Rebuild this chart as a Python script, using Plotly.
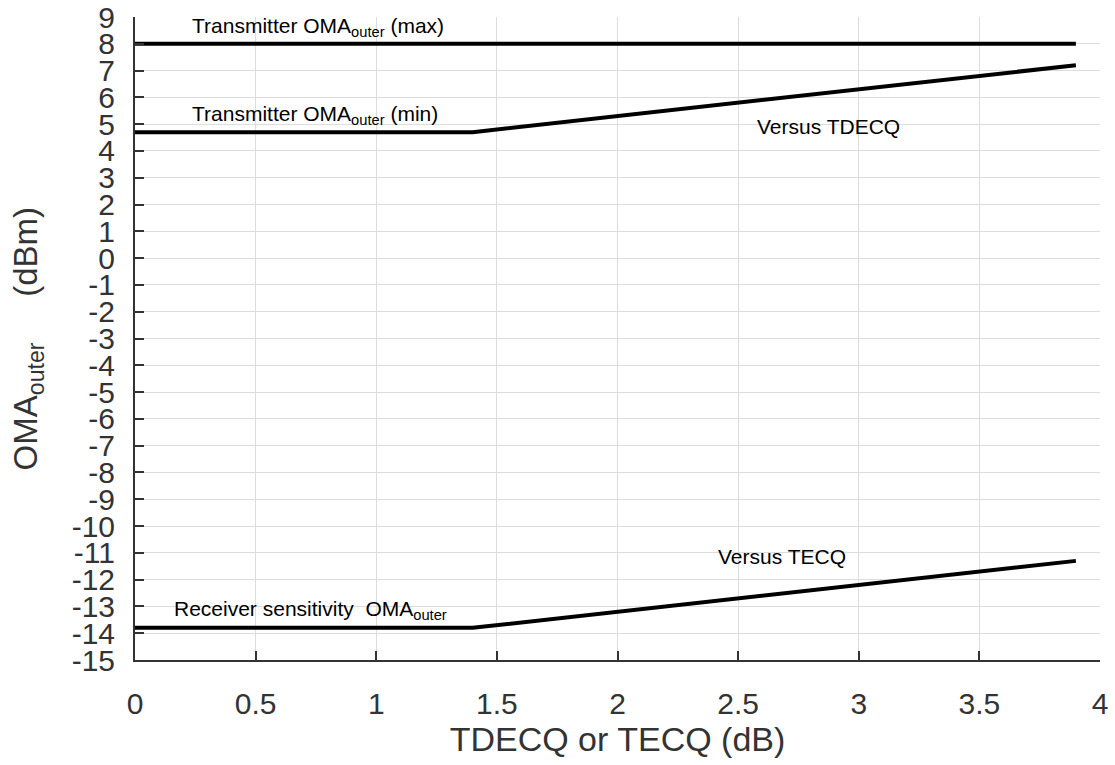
import plotly.graph_objects as go

# Data
tx_max_x = [0, 3.9]
tx_max_y = [8, 8]
tx_min_x = [0, 1.4, 3.9]
tx_min_y = [4.7, 4.7, 7.2]
rx_x = [0, 1.4, 3.9]
rx_y = [-13.8, -13.8, -11.3]

x_ticks = [0, 0.5, 1, 1.5, 2, 2.5, 3, 3.5, 4]
x_tick_labels = ["0", "0.5", "1", "1.5", "2", "2.5", "3", "3.5", "4"]
y_ticks = list(range(-15, 10))
y_tick_labels = [str(v) for v in y_ticks]

FONT = "Liberation Sans, Arial, sans-serif"

fig = go.Figure()
for xs, ys in [(tx_max_x, tx_max_y), (tx_min_x, tx_min_y), (rx_x, rx_y)]:
    fig.add_trace(go.Scatter(x=xs, y=ys, mode="lines",
                             line=dict(color="black", width=4),
                             showlegend=False, hoverinfo="skip"))

annots = [
    (0.228, 8.63, "Transmitter OMA<sub>outer</sub> (max)"),
    (0.228, 5.34, "Transmitter OMA<sub>outer</sub> (min)"),
    (2.57, 4.9, "Versus TDECQ"),
    (2.41, -11.15, "Versus TECQ"),
    (0.153, -13.13, "Receiver sensitivity  OMA<sub>outer</sub>"),
]
for x, y, t in annots:
    fig.add_annotation(x=x, y=y, text=t, showarrow=False, xanchor="left",
                       yanchor="middle", font=dict(size=21, color="black", family=FONT))

# y-axis title as a rotated annotation for exact placement
fig.add_annotation(xref="paper", yref="paper", x=-0.111, y=0.5,
                   text="OMA<sub>outer</sub>     (dBm)", textangle=-90,
                   showarrow=False, xanchor="center", yanchor="middle",
                   font=dict(size=33, color="#333", family=FONT))

fig.update_layout(
    width=1115, height=765,
    margin=dict(l=135, r=15, t=17, b=105),
    plot_bgcolor="white", paper_bgcolor="white",
    font=dict(family=FONT, color="#222"),
    hovermode=False,
)
fig.update_xaxes(range=[0, 4], tickvals=x_ticks, ticktext=x_tick_labels,
                 showgrid=True, gridcolor="#dddddd", gridwidth=1,
                 showline=True, linecolor="#333", linewidth=2,
                 ticks="inside", ticklen=9, tickwidth=2, tickcolor="#333",
                 tickfont=dict(size=30, color="#333"), zeroline=False,
                 ticklabelstandoff=16, automargin=False, ticklabeloverflow="allow",
                 title=dict(text="TDECQ or TECQ (dB)", font=dict(size=34, color="#333"), standoff=6))
fig.update_yaxes(range=[-15, 9], tickvals=y_ticks, ticktext=y_tick_labels,
                 showgrid=True, gridcolor="#dddddd", gridwidth=1,
                 showline=True, linecolor="#333", linewidth=2,
                 ticks="inside", ticklen=9, tickwidth=2, tickcolor="#333",
                 tickfont=dict(size=30, color="#333"), zeroline=False,
                 ticklabelstandoff=12, automargin=False, ticklabeloverflow="allow")

fig.write_html("out.html", config={"displayModeBar": False},
               post_script="document.body.style.margin='0';document.body.style.overflow='hidden';")
